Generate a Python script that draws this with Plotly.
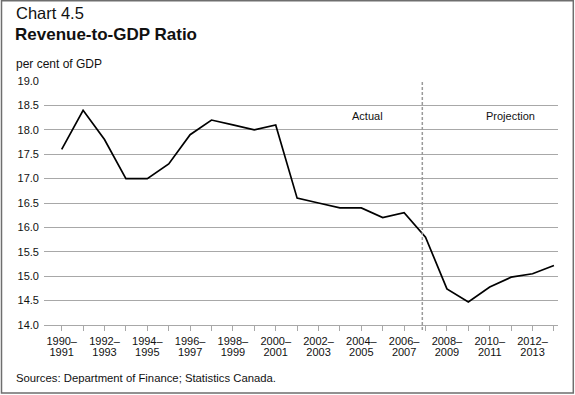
import plotly.graph_objects as go

# ---- data ----
years = ["1990–1991", "1991–1992", "1992–1993", "1993–1994", "1994–1995", "1995–1996",
         "1996–1997", "1997–1998", "1998–1999", "1999–2000", "2000–2001", "2001–2002",
         "2002–2003", "2003–2004", "2004–2005", "2005–2006", "2006–2007", "2007–2008",
         "2008–2009", "2009–2010", "2010–2011", "2011–2012", "2012–2013", "2013–2014"]
revenue_ratio = [17.6, 18.4, 17.8, 17.0, 17.0, 17.3, 17.9, 18.2, 18.1, 18.0, 18.1, 16.6,
                 16.5, 16.4, 16.4, 16.2, 16.3, 15.8, 14.74, 14.47, 14.78, 14.98, 15.05, 15.22]
y_ticks = [14.0, 14.5, 15.0, 15.5, 16.0, 16.5, 17.0, 17.5, 18.0, 18.5, 19.0]
projection_start = "2007–2008"

# ---- layout geometry ----
W, H = 575, 395
L, R, T, B = 44, 17, 81, 70
PW, PH = W - L - R, H - T - B


def px(x):
    return (x - L) / PW


def py(y):
    return (H - B - y) / PH


FONT = "Liberation Sans, Arial, Helvetica, sans-serif"
TXT = "#111111"

xs = list(range(len(years)))
line1 = [y.split("–")[0] + "–" if i % 2 == 0 else "" for i, y in enumerate(years)]
line2 = [y.split("–")[1] if i % 2 == 0 else "" for i, y in enumerate(years)]

fig = go.Figure()
fig.add_trace(go.Scatter(x=xs, y=revenue_ratio, mode="lines",
                         line=dict(color="#000000", width=1.7), hoverinfo="skip",
                         showlegend=False))
# invisible companion trace so the second-line tick axis is drawn
fig.add_trace(go.Scatter(x=xs, y=revenue_ratio, mode="lines", xaxis="x2",
                         line=dict(color="rgba(0,0,0,0)", width=0), hoverinfo="skip",
                         showlegend=False))

div_x = years.index(projection_start) - 0.15
XR = [-0.827, 23.19]

fig.update_layout(
    width=W, height=H,
    margin=dict(l=L, r=R, t=T, b=B, pad=0),
    paper_bgcolor="white", plot_bgcolor="white",
    font=dict(family=FONT, color=TXT, size=11),
    xaxis=dict(range=XR, tickmode="array", tickvals=xs, ticktext=line1,
               ticks="outside", ticklen=5, tickcolor="#a8a8a8", tickwidth=1,
               showline=True, linecolor="#a8a8a8", linewidth=1, showgrid=False,
               zeroline=False, tickfont=dict(size=11, color=TXT),
               ticklabelstandoff=1, fixedrange=True),
    xaxis2=dict(range=XR, overlaying="x", side="bottom", anchor="y", tickmode="array",
                tickvals=xs, ticktext=line2, ticks="outside", ticklen=5,
                tickcolor="rgba(0,0,0,0)", showline=False, showgrid=False,
                zeroline=False, tickfont=dict(size=11, color=TXT),
                ticklabelstandoff=12, fixedrange=True),
    yaxis=dict(range=[14, 19], tickmode="array", tickvals=y_ticks,
               ticktext=[f"{v:.1f}" for v in y_ticks], ticks="", showgrid=True,
               gridcolor="#a8a8a8", gridwidth=1, zeroline=False, showline=False,
               tickfont=dict(size=11, color=TXT), ticklabelstandoff=4, fixedrange=True),
    shapes=[
        dict(type="line", xref="x", yref="paper", x0=div_x, x1=div_x, y0=-0.02, y1=1,
             line=dict(color="#9a9a9a", width=1.5, dash="3px,2px")),
        dict(type="rect", xref="paper", yref="paper", x0=px(1.5), x1=px(573.3),
             y0=py(393), y1=py(0.7), line=dict(color="#6e6e6e", width=1.5),
             fillcolor="rgba(0,0,0,0)", layer="above"),
    ],
    annotations=[
        dict(text="Chart 4.5", xref="paper", yref="paper", x=px(13.5), y=py(13),
             xanchor="left", yanchor="middle", showarrow=False,
             font=dict(size=16.5, color=TXT)),
        dict(text="<b>Revenue-to-GDP Ratio</b>", xref="paper", yref="paper", x=px(13),
             y=py(35), xanchor="left", yanchor="middle", showarrow=False,
             font=dict(size=17, color=TXT)),
        dict(text="per cent of GDP", xref="paper", yref="paper", x=px(14), y=py(64),
             xanchor="left", yanchor="middle", showarrow=False,
             font=dict(size=12, color=TXT)),
        dict(text="Actual", xref="x", yref="y", x=14.27, y=18.28, xanchor="center",
             yanchor="middle", showarrow=False, font=dict(size=11, color=TXT)),
        dict(text="Projection", xref="x", yref="y", x=20.95, y=18.28, xanchor="center",
             yanchor="middle", showarrow=False, font=dict(size=11, color=TXT)),
        dict(text="Sources: Department of Finance; Statistics Canada.", xref="paper",
             yref="paper", x=px(14), y=py(378), xanchor="left", yanchor="middle",
             showarrow=False, font=dict(size=11.3, color=TXT)),
    ],
)

fig.write_html("out.html", config={"displayModeBar": False},
               post_script="document.body.style.margin='0';document.body.style.overflow='hidden';")
